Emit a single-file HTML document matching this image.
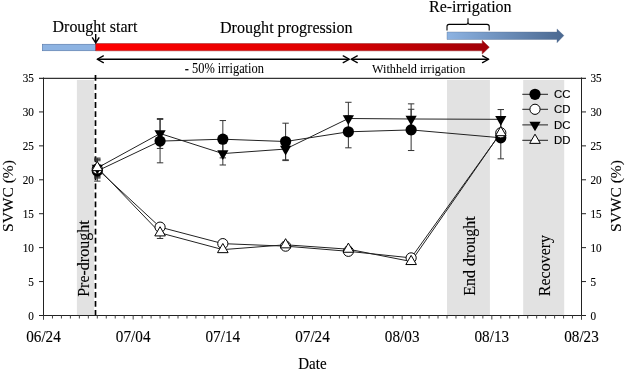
<!DOCTYPE html>
<html><head><meta charset="utf-8"><style>
html,body{margin:0;padding:0;background:#fff;}
svg{display:block;will-change:transform;}
text{font-family:"Liberation Serif", serif;fill:#000;}
.ss{font-family:"Liberation Sans", sans-serif;}
</style></head><body>
<svg width="625" height="370" viewBox="0 0 625 370">
<rect x="76.9" y="80" width="17.1" height="235.0" fill="#e2e2e2"/>
<rect x="447" y="80" width="42.9" height="235.0" fill="#e2e2e2"/>
<rect x="523.2" y="80" width="41.0" height="235.0" fill="#e2e2e2"/>
<text transform="translate(89,296.8) rotate(-90)" font-size="16" stroke="#000" stroke-width="0.12">Pre-drought</text>
<text transform="translate(475.2,295.8) rotate(-90)" font-size="16" stroke="#000" stroke-width="0.12">End drought</text>
<text transform="translate(549.8,296.2) rotate(-90)" font-size="16" stroke="#000" stroke-width="0.12">Recovery</text>
<line x1="95.5" y1="75" x2="95.5" y2="315" stroke="#000" stroke-width="1.7" stroke-dasharray="5.8 3.24"/>
<line x1="39.0" y1="78.3" x2="586.0" y2="78.3" stroke="#000" stroke-width="1"/>
<line x1="43.5" y1="77.5" x2="43.5" y2="319.5" stroke="#222" stroke-width="1"/>
<line x1="581.5" y1="77.5" x2="581.5" y2="319.5" stroke="#222" stroke-width="1"/>
<line x1="39.0" y1="315.5" x2="581.5" y2="315.5" stroke="#222" stroke-width="1"/>
<path d="M39.0,281.57H43.5M581.5,281.57H586.0M39.0,247.64H43.5M581.5,247.64H586.0M39.0,213.71H43.5M581.5,213.71H586.0M39.0,179.79H43.5M581.5,179.79H586.0M39.0,145.86H43.5M581.5,145.86H586.0M39.0,111.93H43.5M581.5,111.93H586.0" stroke="#222" stroke-width="1"/>
<path d="M581.5,315.5H586.0" stroke="#222" stroke-width="1"/>
<text transform="translate(33.9,319.82) scale(1,1.14)" font-size="11.2" text-anchor="end" stroke="#000" stroke-width="0.12">0</text>
<text transform="translate(590.5,319.82) scale(1,1.14)" font-size="11.2" stroke="#000" stroke-width="0.12">0</text>
<text transform="translate(33.9,285.89) scale(1,1.14)" font-size="11.2" text-anchor="end" stroke="#000" stroke-width="0.12">5</text>
<text transform="translate(590.5,285.89) scale(1,1.14)" font-size="11.2" stroke="#000" stroke-width="0.12">5</text>
<text transform="translate(33.9,251.96) scale(1,1.14)" font-size="11.2" text-anchor="end" stroke="#000" stroke-width="0.12">10</text>
<text transform="translate(590.5,251.96) scale(1,1.14)" font-size="11.2" stroke="#000" stroke-width="0.12">10</text>
<text transform="translate(33.9,218.03) scale(1,1.14)" font-size="11.2" text-anchor="end" stroke="#000" stroke-width="0.12">15</text>
<text transform="translate(590.5,218.03) scale(1,1.14)" font-size="11.2" stroke="#000" stroke-width="0.12">15</text>
<text transform="translate(33.9,184.1) scale(1,1.14)" font-size="11.2" text-anchor="end" stroke="#000" stroke-width="0.12">20</text>
<text transform="translate(590.5,184.1) scale(1,1.14)" font-size="11.2" stroke="#000" stroke-width="0.12">20</text>
<text transform="translate(33.9,150.17) scale(1,1.14)" font-size="11.2" text-anchor="end" stroke="#000" stroke-width="0.12">25</text>
<text transform="translate(590.5,150.17) scale(1,1.14)" font-size="11.2" stroke="#000" stroke-width="0.12">25</text>
<text transform="translate(33.9,116.24) scale(1,1.14)" font-size="11.2" text-anchor="end" stroke="#000" stroke-width="0.12">30</text>
<text transform="translate(590.5,116.24) scale(1,1.14)" font-size="11.2" stroke="#000" stroke-width="0.12">30</text>
<text transform="translate(33.9,82.32) scale(1,1.14)" font-size="11.2" text-anchor="end" stroke="#000" stroke-width="0.12">35</text>
<text transform="translate(590.5,82.32) scale(1,1.14)" font-size="11.2" stroke="#000" stroke-width="0.12">35</text>
<path d="M43.50,315.5V319.5M52.47,315.5V318.5M61.43,315.5V318.5M70.40,315.5V318.5M79.37,315.5V318.5M88.33,315.5V318.5M97.30,315.5V318.5M106.27,315.5V318.5M115.23,315.5V318.5M124.20,315.5V318.5M133.17,315.5V319.5M142.13,315.5V318.5M151.10,315.5V318.5M160.07,315.5V318.5M169.03,315.5V318.5M178.00,315.5V318.5M186.97,315.5V318.5M195.93,315.5V318.5M204.90,315.5V318.5M213.87,315.5V318.5M222.83,315.5V319.5M231.80,315.5V318.5M240.77,315.5V318.5M249.73,315.5V318.5M258.70,315.5V318.5M267.67,315.5V318.5M276.63,315.5V318.5M285.60,315.5V318.5M294.57,315.5V318.5M303.53,315.5V318.5M312.50,315.5V319.5M321.47,315.5V318.5M330.43,315.5V318.5M339.40,315.5V318.5M348.37,315.5V318.5M357.33,315.5V318.5M366.30,315.5V318.5M375.27,315.5V318.5M384.23,315.5V318.5M393.20,315.5V318.5M402.17,315.5V319.5M411.13,315.5V318.5M420.10,315.5V318.5M429.07,315.5V318.5M438.03,315.5V318.5M447.00,315.5V318.5M455.97,315.5V318.5M464.93,315.5V318.5M473.90,315.5V318.5M482.87,315.5V318.5M491.83,315.5V319.5M500.80,315.5V318.5M509.77,315.5V318.5M518.73,315.5V318.5M527.70,315.5V318.5M536.67,315.5V318.5M545.63,315.5V318.5M554.60,315.5V318.5M563.57,315.5V318.5M572.53,315.5V318.5M581.50,315.5V319.5" stroke="#444" stroke-width="1"/>
<text transform="translate(43.5,341.8) scale(1,1.1)" font-size="15.2" text-anchor="middle" stroke="#000" stroke-width="0.12">06/24</text>
<text transform="translate(133.17,341.8) scale(1,1.1)" font-size="15.2" text-anchor="middle" stroke="#000" stroke-width="0.12">07/04</text>
<text transform="translate(222.83,341.8) scale(1,1.1)" font-size="15.2" text-anchor="middle" stroke="#000" stroke-width="0.12">07/14</text>
<text transform="translate(312.5,341.8) scale(1,1.1)" font-size="15.2" text-anchor="middle" stroke="#000" stroke-width="0.12">07/24</text>
<text transform="translate(402.17,341.8) scale(1,1.1)" font-size="15.2" text-anchor="middle" stroke="#000" stroke-width="0.12">08/03</text>
<text transform="translate(491.83,341.8) scale(1,1.1)" font-size="15.2" text-anchor="middle" stroke="#000" stroke-width="0.12">08/13</text>
<text transform="translate(581.5,341.8) scale(1,1.1)" font-size="15.2" text-anchor="middle" stroke="#000" stroke-width="0.12">08/23</text>
<text transform="translate(312.4,369.2) scale(1,1.05)" font-size="15" text-anchor="middle" stroke="#000" stroke-width="0.12">Date</text>
<text transform="translate(13.3,196) rotate(-90)" font-size="15.5" text-anchor="middle" stroke="#000" stroke-width="0.12">SVWC (%)</text>
<text transform="translate(621.4,196) rotate(-90)" font-size="15.5" text-anchor="middle" stroke="#000" stroke-width="0.12">SVWC (%)</text>
<path d="M97.30,160.79V181.14M94.10,160.79H100.50M94.10,181.14H100.50" stroke="#333" stroke-width="1" fill="none"/>
<path d="M160.07,119.39V162.82M156.87,119.39H163.27M156.87,162.82H163.27" stroke="#333" stroke-width="1" fill="none"/>
<path d="M222.83,120.55V157.87M219.63,120.55H226.03M219.63,157.87H226.03" stroke="#333" stroke-width="1" fill="none"/>
<path d="M285.60,123.19V159.84M282.40,123.19H288.80M282.40,159.84H288.80" stroke="#333" stroke-width="1" fill="none"/>
<path d="M348.37,115.80V147.82M345.17,115.80H351.57M345.17,147.82H351.57" stroke="#333" stroke-width="1" fill="none"/>
<path d="M411.13,109.28V150.54M407.93,109.28H414.33M407.93,150.54H414.33" stroke="#333" stroke-width="1" fill="none"/>
<path d="M500.80,116.75V158.82M497.60,116.75H504.00M497.60,158.82H504.00" stroke="#333" stroke-width="1" fill="none"/>
<path d="M97.30,159.77V178.09M94.10,159.77H100.50M94.10,178.09H100.50" stroke="#333" stroke-width="1" fill="none"/>
<path d="M160.07,224.44V229.86M156.87,224.44H163.27M156.87,229.86H163.27" stroke="#333" stroke-width="1" fill="none"/>
<path d="M222.83,241.60V245.68M219.63,241.60H226.03M219.63,245.68H226.03" stroke="#333" stroke-width="1" fill="none"/>
<path d="M285.60,244.11V248.19M282.40,244.11H288.80M282.40,248.19H288.80" stroke="#333" stroke-width="1" fill="none"/>
<path d="M348.37,249.27V253.34M345.17,249.27H351.57M345.17,253.34H351.57" stroke="#333" stroke-width="1" fill="none"/>
<path d="M411.13,255.85V259.93M407.93,255.85H414.33M407.93,259.93H414.33" stroke="#333" stroke-width="1" fill="none"/>
<path d="M500.80,130.11V135.54M497.60,130.11H504.00M497.60,135.54H504.00" stroke="#333" stroke-width="1" fill="none"/>
<path d="M97.30,159.09V176.73M94.10,159.09H100.50M94.10,176.73H100.50" stroke="#333" stroke-width="1" fill="none"/>
<path d="M160.07,118.58V148.44M156.87,118.58H163.27M156.87,148.44H163.27" stroke="#333" stroke-width="1" fill="none"/>
<path d="M222.83,142.19V164.99M219.63,142.19H226.03M219.63,164.99H226.03" stroke="#333" stroke-width="1" fill="none"/>
<path d="M285.60,137.51V160.58M282.40,137.51H288.80M282.40,160.58H288.80" stroke="#333" stroke-width="1" fill="none"/>
<path d="M348.37,102.29V134.73M345.17,102.29H351.57M345.17,134.73H351.57" stroke="#333" stroke-width="1" fill="none"/>
<path d="M411.13,103.85V134.12M407.93,103.85H414.33M407.93,134.12H414.33" stroke="#333" stroke-width="1" fill="none"/>
<path d="M500.80,109.55V129.10M497.60,109.55H504.00M497.60,129.10H504.00" stroke="#333" stroke-width="1" fill="none"/>
<path d="M97.30,158.07V177.07M94.10,158.07H100.50M94.10,177.07H100.50" stroke="#333" stroke-width="1" fill="none"/>
<path d="M160.07,227.22V238.48M156.87,227.22H163.27M156.87,238.48H163.27" stroke="#333" stroke-width="1" fill="none"/>
<path d="M222.83,247.57V251.65M219.63,247.57H226.03M219.63,251.65H226.03" stroke="#333" stroke-width="1" fill="none"/>
<path d="M285.60,242.76V246.83M282.40,242.76H288.80M282.40,246.83H288.80" stroke="#333" stroke-width="1" fill="none"/>
<path d="M348.37,247.17V251.24M345.17,247.17H351.57M345.17,251.24H351.57" stroke="#333" stroke-width="1" fill="none"/>
<path d="M411.13,259.45V263.52M407.93,259.45H414.33M407.93,263.52H414.33" stroke="#333" stroke-width="1" fill="none"/>
<path d="M500.80,129.91V135.34M497.60,129.91H504.00M497.60,135.34H504.00" stroke="#333" stroke-width="1" fill="none"/>
<polyline points="97.30,170.96 160.07,141.11 222.83,139.21 285.60,141.51 348.37,131.81 411.13,129.91 500.80,137.78" fill="none" stroke="#222" stroke-width="1"/>
<polyline points="97.30,168.93 160.07,227.15 222.83,243.64 285.60,246.15 348.37,251.31 411.13,257.89 500.80,132.83" fill="none" stroke="#222" stroke-width="1"/>
<polyline points="97.30,167.91 160.07,133.51 222.83,153.59 285.60,149.05 348.37,118.51 411.13,118.99 500.80,119.32" fill="none" stroke="#222" stroke-width="1"/>
<polyline points="97.30,167.57 160.07,232.85 222.83,249.61 285.60,244.79 348.37,249.20 411.13,261.49 500.80,132.62" fill="none" stroke="#222" stroke-width="1"/>
<circle cx="97.30" cy="170.96" r="5.6" fill="#000"/>
<circle cx="160.07" cy="141.11" r="5.6" fill="#000"/>
<circle cx="222.83" cy="139.21" r="5.6" fill="#000"/>
<circle cx="285.60" cy="141.51" r="5.6" fill="#000"/>
<circle cx="348.37" cy="131.81" r="5.6" fill="#000"/>
<circle cx="411.13" cy="129.91" r="5.6" fill="#000"/>
<circle cx="500.80" cy="137.78" r="5.6" fill="#000"/>
<circle cx="97.30" cy="168.93" r="5.1" fill="#fff" stroke="#000" stroke-width="1"/>
<circle cx="160.07" cy="227.15" r="5.1" fill="#fff" stroke="#000" stroke-width="1"/>
<circle cx="222.83" cy="243.64" r="5.1" fill="#fff" stroke="#000" stroke-width="1"/>
<circle cx="285.60" cy="246.15" r="5.1" fill="#fff" stroke="#000" stroke-width="1"/>
<circle cx="348.37" cy="251.31" r="5.1" fill="#fff" stroke="#000" stroke-width="1"/>
<circle cx="411.13" cy="257.89" r="5.1" fill="#fff" stroke="#000" stroke-width="1"/>
<circle cx="500.80" cy="132.83" r="5.1" fill="#fff" stroke="#000" stroke-width="1"/>
<path d="M91.70,164.68L102.90,164.68L97.30,174.38Z" fill="#000"/>
<path d="M154.47,130.27L165.67,130.27L160.07,139.97Z" fill="#000"/>
<path d="M217.23,150.36L228.43,150.36L222.83,160.06Z" fill="#000"/>
<path d="M280.00,145.81L291.20,145.81L285.60,155.51Z" fill="#000"/>
<path d="M342.77,115.28L353.97,115.28L348.37,124.98Z" fill="#000"/>
<path d="M405.53,115.75L416.73,115.75L411.13,125.45Z" fill="#000"/>
<path d="M495.20,116.09L506.40,116.09L500.80,125.79Z" fill="#000"/>
<path d="M97.30,161.45L102.60,170.63L92.00,170.63Z" fill="#fff" stroke="#000" stroke-width="1"/>
<path d="M160.07,226.73L165.37,235.91L154.77,235.91Z" fill="#fff" stroke="#000" stroke-width="1"/>
<path d="M222.83,243.49L228.13,252.67L217.53,252.67Z" fill="#fff" stroke="#000" stroke-width="1"/>
<path d="M285.60,238.67L290.90,247.85L280.30,247.85Z" fill="#fff" stroke="#000" stroke-width="1"/>
<path d="M348.37,243.08L353.67,252.26L343.07,252.26Z" fill="#fff" stroke="#000" stroke-width="1"/>
<path d="M411.13,255.37L416.43,264.55L405.83,264.55Z" fill="#fff" stroke="#000" stroke-width="1"/>
<path d="M500.80,126.51L506.10,135.68L495.50,135.68Z" fill="#fff" stroke="#000" stroke-width="1"/>
<line x1="522.3" y1="94.3" x2="548" y2="94.3" stroke="#222" stroke-width="1"/>
<circle cx="535.00" cy="94.30" r="5.6" fill="#000"/>
<text transform="translate(554,97.9)" font-size="11.4" class="ss" stroke="#000" stroke-width="0.15">CC</text>
<line x1="522.3" y1="109.3" x2="548" y2="109.3" stroke="#222" stroke-width="1"/>
<circle cx="535.00" cy="109.30" r="5.1" fill="#fff" stroke="#000" stroke-width="1"/>
<text transform="translate(554,112.9)" font-size="11.4" class="ss" stroke="#000" stroke-width="0.15">CD</text>
<line x1="522.3" y1="124.9" x2="548" y2="124.9" stroke="#222" stroke-width="1"/>
<path d="M529.40,121.67L540.60,121.67L535.00,131.37Z" fill="#000"/>
<text transform="translate(554,128.5)" font-size="11.4" class="ss" stroke="#000" stroke-width="0.15">DC</text>
<line x1="522.3" y1="140.3" x2="548" y2="140.3" stroke="#222" stroke-width="1"/>
<path d="M535.00,134.18L540.30,143.36L529.70,143.36Z" fill="#fff" stroke="#000" stroke-width="1"/>
<text transform="translate(554,143.9)" font-size="11.4" class="ss" stroke="#000" stroke-width="0.15">DD</text>
<defs><linearGradient id="gr" x1="0" x2="1" y1="0" y2="0"><stop offset="0" stop-color="#ff0000"/><stop offset="0.55" stop-color="#e00000"/><stop offset="1" stop-color="#a00008"/></linearGradient><linearGradient id="gb" x1="0" x2="1" y1="0" y2="0"><stop offset="0" stop-color="#8db3e2"/><stop offset="1" stop-color="#4a6890"/></linearGradient></defs>
<rect x="42.4" y="44.3" width="53.3" height="6.4" fill="#8db3e2" stroke="#5d7fae" stroke-width="0.7"/>
<path d="M95.7,43.5H482.2V40.3L489.3,47.2L482.2,54.1V50.8H95.7Z" fill="url(#gr)" stroke="#902020" stroke-width="0.6" stroke-opacity="0.8"/>
<path d="M447,32H557V28.9L563.9,35.6L557,42.7V39.5H447Z" fill="url(#gb)" stroke="#50688a" stroke-width="0.5" stroke-opacity="0.7"/>
<path d="M95.7,34.1V43M92.2,37.4L95.7,43L99.2,37.4" stroke="#000" stroke-width="1.4" fill="none"/>
<path d="M97.5,59.25H349M351.5,59.25H488.5" stroke="#000" stroke-width="1.6" fill="none"/>
<path d="M103.3,55.9L97.2,59.25L103.3,62.6M343.3,55.9L349.4,59.25L343.3,62.6M357.2,55.9L351.1,59.25L357.2,62.6M482.6,55.9L488.7,59.25L482.6,62.6" stroke="#000" stroke-width="1.4" fill="none" stroke-linecap="round" stroke-linejoin="round"/>
<path d="M447,30.6V26.5Q447,24.4 449,24.4H466Q468,24.4 468,22V18.2M468,22Q468,24.4 470,24.4H487Q489.2,24.4 489.2,26.5V30.6" stroke="#000" stroke-width="1.1" fill="none"/>
<text transform="translate(52.5,31.6) scale(1,1.03)" font-size="16" stroke="#000" stroke-width="0.12">Drought start</text>
<text transform="translate(220,33) scale(1,1.04)" font-size="16.1" stroke="#000" stroke-width="0.12">Drought progression</text>
<text transform="translate(429,12) scale(1,1.03)" font-size="16" stroke="#000" stroke-width="0.12">Re-irrigation</text>
<text transform="translate(184.8,73) scale(1,1.1)" font-size="12.4" stroke="#000" stroke-width="0.05">- 50% irrigation</text>
<text transform="translate(372,72.5) scale(1,1.1)" font-size="12.2" stroke="#000" stroke-width="0.05">Withheld irrigation</text>
</svg>
</body></html>
